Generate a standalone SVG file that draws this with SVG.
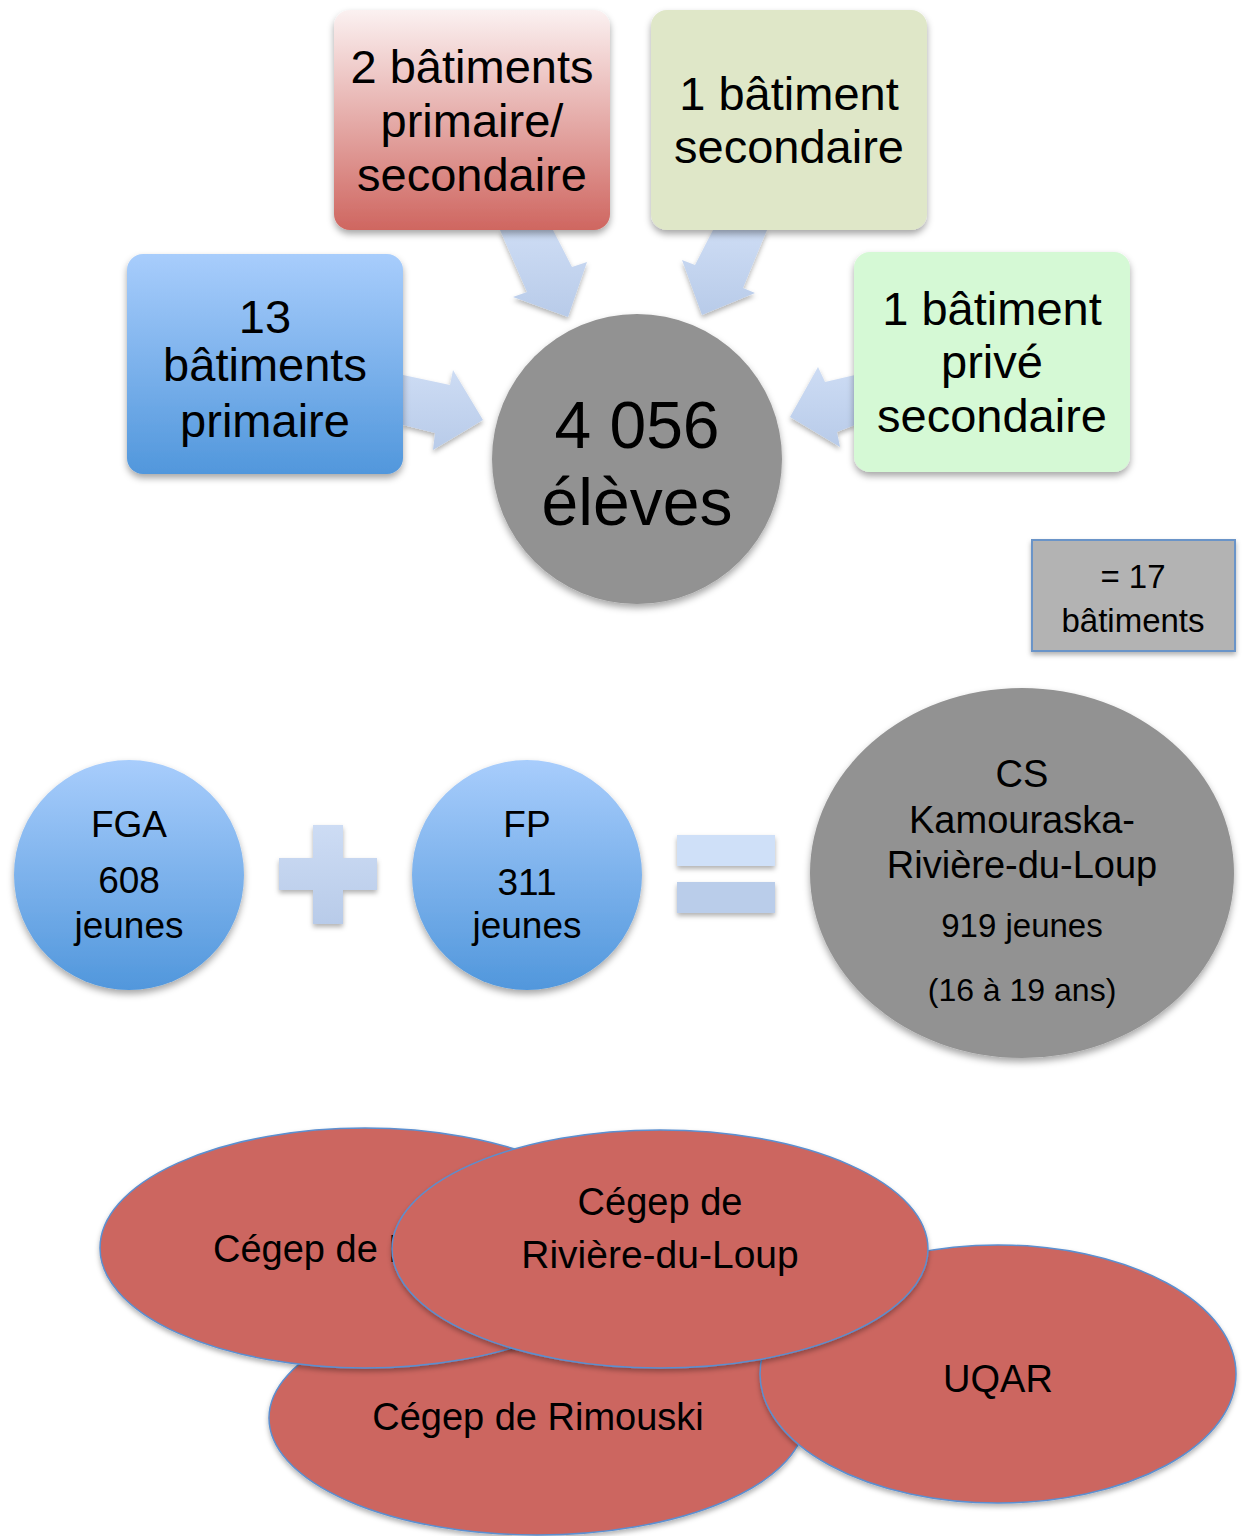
<svg xmlns="http://www.w3.org/2000/svg" width="1243" height="1536" viewBox="0 0 1243 1536">
<defs>
<style>
text{font-family:"Liberation Sans","Noto Sans",Arial,sans-serif;fill:#000;text-anchor:middle}
.big{font-size:47px}
.mid{font-size:37px}
.sm{font-size:33px}
.arrow{fill:url(#arrowGrad)}
.ell{fill:#cc6660;stroke:#5b8fd0;stroke-width:1.5}
</style>
<linearGradient id="blueGrad" x1="0" y1="0" x2="0" y2="1">
<stop offset="0" stop-color="#a8cdfc"/><stop offset="1" stop-color="#5197dc"/>
</linearGradient>
<linearGradient id="redGrad" x1="0" y1="0" x2="0" y2="1">
<stop offset="0" stop-color="#fbf1f1"/><stop offset="1" stop-color="#cf6660"/>
</linearGradient>
<linearGradient id="arrowGrad" x1="0" y1="0" x2="0" y2="1">
<stop offset="0" stop-color="#cddcf4"/><stop offset="1" stop-color="#b8cbe9"/>
</linearGradient>
<filter id="sh" x="-20%" y="-20%" width="140%" height="150%">
<feDropShadow dx="0" dy="4" stdDeviation="3.5" flood-color="#000" flood-opacity="0.35"/>
</filter>
<filter id="shs" x="-20%" y="-20%" width="140%" height="150%">
<feDropShadow dx="0" dy="3" stdDeviation="2.5" flood-color="#000" flood-opacity="0.3"/>
</filter>
</defs>

<g id="connectors">
<polygon class="arrow" filter="url(#shs)" points="403,375 450,385 453,370 483,420 433,450 435,433 403,425"/>
<polygon class="arrow" filter="url(#shs)" points="500,230 553,230 572,267 587,262 568,317 513,297 527,292"/>
<polygon class="arrow" filter="url(#shs)" points="713,230 767,230 743,288 755,293 702,315 682,260 695,265"/>
<polygon class="arrow" filter="url(#shs)" points="855,375 825,382 818,367 790,417 840,447 837,432 855,425"/>
</g>

<g id="center">
<circle cx="637" cy="459" r="145" fill="#929292" filter="url(#sh)"/>
<text x="637" y="448" font-size="66">4 056</text>
<text x="637" y="525" font-size="66">élèves</text>
</g>

<g id="box-primaire">
<rect x="127" y="254" width="276" height="220" rx="16" fill="url(#blueGrad)" filter="url(#sh)"/>
<text class="big" x="265" y="333">13</text>
<text class="big" x="265" y="381">bâtiments</text>
<text class="big" x="265" y="437">primaire</text>
</g>

<g id="box-primsec">
<rect x="334" y="10" width="276" height="220" rx="16" fill="url(#redGrad)" filter="url(#sh)"/>
<text class="big" x="472" y="83">2 bâtiments</text>
<text class="big" x="472" y="137">primaire/</text>
<text class="big" x="472" y="191">secondaire</text>
</g>

<g id="box-sec">
<rect x="651" y="10" width="276" height="220" rx="16" fill="#dfe7c8" filter="url(#sh)"/>
<text class="big" x="789" y="110">1 bâtiment</text>
<text class="big" x="789" y="163">secondaire</text>
</g>

<g id="box-prive">
<rect x="854" y="252" width="276" height="220" rx="16" fill="#d5f9d5" filter="url(#sh)"/>
<text class="big" x="992" y="325">1 bâtiment</text>
<text class="big" x="992" y="378">privé</text>
<text class="big" x="992" y="432">secondaire</text>
</g>

<g id="total-box">
<rect x="1032" y="540" width="203" height="111" fill="#b3b3b3" stroke="#6a94c8" stroke-width="2" filter="url(#shs)"/>
<text x="1133" y="588" font-size="33">= 17</text>
<text x="1133" y="632" font-size="33">bâtiments</text>
</g>

<g id="fga">
<circle cx="129" cy="875" r="115" fill="url(#blueGrad)" filter="url(#sh)"/>
<text class="mid" x="129" y="837">FGA</text>
<text class="mid" x="129" y="893">608</text>
<text class="mid" x="129" y="938">jeunes</text>
</g>

<g id="plus" filter="url(#shs)">
<path d="M313,825 H343 V858 H377 V890 H343 V924 H313 V890 H279 V858 H313 Z" fill="url(#arrowGrad)"/>
</g>

<g id="fp">
<circle cx="527" cy="875" r="115" fill="url(#blueGrad)" filter="url(#sh)"/>
<text class="mid" x="527" y="837">FP</text>
<text class="mid" x="527" y="895">311</text>
<text class="mid" x="527" y="938">jeunes</text>
</g>

<g id="equals" filter="url(#shs)">
<rect x="677" y="835" width="98" height="31" fill="#cfe0f8"/>
<rect x="677" y="882" width="98" height="31" fill="#bacdea"/>
</g>

<g id="cs">
<ellipse cx="1022" cy="873" rx="212" ry="185" fill="#929292" filter="url(#sh)"/>
<text x="1022" y="787" font-size="38">CS</text>
<text x="1022" y="833" font-size="38">Kamouraska-</text>
<text x="1022" y="878" font-size="38">Rivière-du-Loup</text>
<text class="sm" x="1022" y="937">919 jeunes</text>
<text x="1022" y="1001" font-size="32">(16 à 19 ans)</text>
</g>

<g id="rimouski">
<ellipse class="ell" cx="537" cy="1418" rx="268" ry="117" filter="url(#shs)"/>
<text x="538" y="1430" font-size="38">Cégep de Rimouski</text>
</g>

<g id="uqar">
<ellipse class="ell" cx="998" cy="1374" rx="238" ry="129" filter="url(#shs)"/>
<text x="998" y="1392" font-size="38">UQAR</text>
</g>

<g id="cegep-l">
<ellipse class="ell" cx="365" cy="1248" rx="265" ry="120" filter="url(#shs)"/>
<text x="213" y="1262" font-size="38" style="text-anchor:start">Cégep de L</text>
</g>

<g id="riviere">
<ellipse class="ell" cx="660" cy="1249" rx="268" ry="119" filter="url(#shs)"/>
<text x="660" y="1215" font-size="38">Cégep de</text>
<text x="660" y="1268" font-size="39">Rivière-du-Loup</text>
</g>
</svg>
